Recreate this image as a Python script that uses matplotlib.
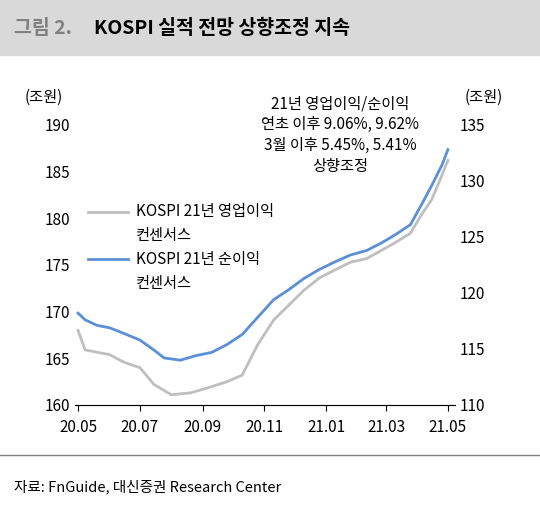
import matplotlib
matplotlib.use("Agg")
import matplotlib.pyplot as plt
import matplotlib.dates as mdates
import pandas as pd

plt.rcParams['font.family'] = ['Noto Sans CJK KR', 'DejaVu Sans']

# 순이익 (right axis, 조원)
net_dates = ['2020-05-01', '2020-05-08', '2020-05-20', '2020-06-01', '2020-06-15', '2020-07-01',
             '2020-07-15', '2020-07-25', '2020-08-10', '2020-08-25', '2020-09-10', '2020-09-25',
             '2020-10-10', '2020-10-25', '2020-11-10', '2020-11-25', '2020-12-10', '2020-12-25',
             '2021-01-10', '2021-01-25', '2021-02-10', '2021-02-25', '2021-03-10', '2021-03-25',
             '2021-04-05', '2021-04-15', '2021-04-25', '2021-05-01']
net_vals = [118.2, 117.6, 117.1, 116.9, 116.4, 115.8, 114.9, 114.2, 114.0, 114.4, 114.7, 115.4,
            116.3, 117.8, 119.4, 120.3, 121.3, 122.1, 122.8, 123.4, 123.8, 124.5, 125.2, 126.1,
            127.9, 129.6, 131.4, 132.8]

# 영업이익 (left axis, 조원)
op_dates = ['2020-05-01', '2020-05-08', '2020-06-01', '2020-06-15', '2020-07-01', '2020-07-15',
            '2020-08-01', '2020-08-20', '2020-09-05', '2020-09-25', '2020-10-10', '2020-10-25',
            '2020-11-10', '2020-11-25', '2020-12-10', '2020-12-25', '2021-01-10', '2021-01-25',
            '2021-02-10', '2021-02-25', '2021-03-10', '2021-03-25', '2021-04-05', '2021-04-15',
            '2021-04-25', '2021-05-01']
op_vals = [168.0, 165.9, 165.4, 164.6, 164.0, 162.2, 161.1, 161.3, 161.8, 162.5, 163.2, 166.4,
           169.1, 170.7, 172.3, 173.6, 174.5, 175.3, 175.7, 176.6, 177.4, 178.4, 180.4, 182.0,
           184.6, 186.2]

tick_dates = ['2020-05-01', '2020-07-01', '2020-09-01', '2020-11-01', '2021-01-01', '2021-03-01', '2021-05-01']
tick_labels = ['20.05', '20.07', '20.09', '20.11', '21.01', '21.03', '21.05']

fig = plt.figure(figsize=(5.4, 5.09), dpi=100)

# title band
fig.patches.append(plt.Rectangle((0, 1 - 55 / 509), 1, 55 / 509, transform=fig.transFigure,
                                 color='#d9d9d9', zorder=0))
fig.text(0.025, 1 - 28 / 509, '그림 2.', fontsize=14, color='#808080', fontweight='bold', va='center')
fig.text(0.175, 1 - 28 / 509, 'KOSPI 실적 전망 상향조정 지속', fontsize=14, color='black',
         fontweight='bold', va='center')

ax = fig.add_axes([75 / 540, 1 - 405 / 509, 380 / 540, 280 / 509])
ax2 = ax.twinx()

ax.plot(pd.to_datetime(op_dates), op_vals, color='#bfbfbf', lw=2)
ax2.plot(pd.to_datetime(net_dates), net_vals, color='#5b8fd6', lw=2)

ax.set_ylim(160, 190)
ax2.set_ylim(110, 135)
ax.set_xlim(pd.Timestamp('2020-04-28'), pd.Timestamp('2021-05-08'))
ax.set_xticks(pd.to_datetime(tick_dates))
ax.set_xticklabels(tick_labels)
for a in (ax, ax2):
    for s in ('top', 'left', 'right'):
        a.spines[s].set_visible(False)
    a.tick_params(labelsize=11, length=0)
ax.tick_params(axis='x', direction='out', length=4, pad=6)
ax.spines['bottom'].set_color('#808080')
ax.set_yticks(range(160, 191, 5))
ax2.set_yticks(range(110, 136, 5))

fig.text(0.045, 1 - 97 / 509, '(조원)', fontsize=11, va='center')
fig.text(0.86, 1 - 97 / 509, '(조원)', fontsize=11, va='center')

fig.text(0.63, 1 - 135 / 509, '21년 영업이익/순이익\n연초 이후 9.06%, 9.62%\n3월 이후 5.45%, 5.41%\n상향조정',
         fontsize=11, ha='center', va='center', linespacing=1.3)

# legend
ax.plot([0.035, 0.14], [0.69, 0.69], color='#bfbfbf', lw=2, transform=ax.transAxes)
ax.plot([0.035, 0.14], [0.52, 0.52], color='#5b8fd6', lw=2, transform=ax.transAxes)
ax.text(0.16, 0.69, 'KOSPI 21년 영업이익', fontsize=11, va='center', transform=ax.transAxes)
ax.text(0.16, 0.605, '컨센서스', fontsize=11, va='center', transform=ax.transAxes)
ax.text(0.16, 0.52, 'KOSPI 21년 순이익', fontsize=11, va='center', transform=ax.transAxes)
ax.text(0.16, 0.435, '컨센서스', fontsize=11, va='center', transform=ax.transAxes)

fig.add_artist(plt.Line2D([0, 1], [1 - 455 / 509] * 2, color='#808080', lw=1))
fig.text(0.025, 1 - 487 / 509, '자료: FnGuide, 대신증권 Research Center', fontsize=10.5, va='center')

fig.savefig('out.png', dpi=100)
